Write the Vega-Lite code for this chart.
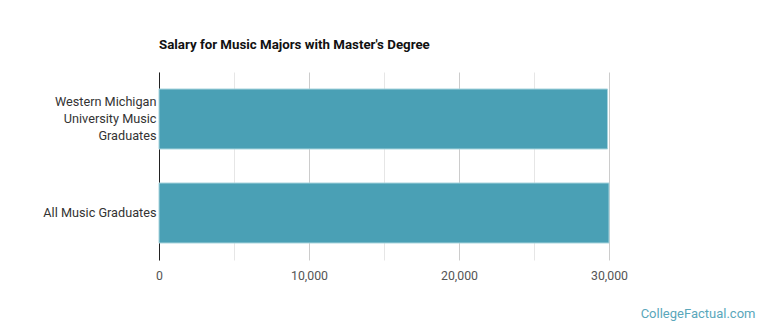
{
  "$schema": "https://vega.github.io/schema/vega-lite/v6.json",
  "autosize": "none",
  "width": 450,
  "height": 188,
  "padding": {"left": 159, "top": 72, "right": 161, "bottom": 75},
  "background": "white",
  "title": {
    "text": "Salary for Music Majors with Master's Degree",
    "anchor": "start",
    "frame": "group",
    "font": "Roboto",
    "fontSize": 13.3,
    "fontWeight": "bold",
    "color": "#111111",
    "offset": 21
  },
  "data": {
    "values": [
      {"group": "Western Michigan University Music Graduates", "salary": 29900},
      {"group": "All Music Graduates", "salary": 30000}
    ]
  },
  "mark": {"type": "bar", "color": "#4aa0b5", "stroke": "#a6d3dd", "strokeWidth": 1},
  "encoding": {
    "y": {
      "field": "group",
      "type": "nominal",
      "sort": null,
      "scale": {"paddingInner": 0.362, "paddingOuter": 0.181},
      "axis": {
        "title": null,
        "ticks": false,
        "domain": true,
        "domainColor": "#222222",
        "domainWidth": 1,
        "grid": false,
        "labelFont": "Roboto",
        "labelFontSize": 12.7,
        "labelColor": "#333333",
        "labelPadding": 3,
        "labelLimit": 200,
        "labelLineHeight": 17,
        "labelOffset": {"condition": {"test": "indexof(datum.value, 'Western') >= 0", "value": -17}, "value": 0},
        "labelExpr": "datum.label == 'Western Michigan University Music Graduates' ? ['Western Michigan', 'University Music', 'Graduates'] : datum.label"
      }
    },
    "x": {
      "field": "salary",
      "type": "quantitative",
      "scale": {"domain": [0, 30000], "nice": false},
      "axis": {
        "values": [0, 5000, 10000, 15000, 20000, 25000, 30000],
        "labelExpr": "datum.value % 10000 == 0 ? format(datum.value, ',') : ''",
        "labelFlush": false,
        "domain": false,
        "ticks": false,
        "grid": true,
        "gridColor": {"condition": {"test": "datum.value % 10000 == 0", "value": "#cccccc"}, "value": "#e6e6e6"},
        "labelFont": "Roboto",
        "labelFontSize": 12.3,
        "labelColor": "#555555",
        "labelPadding": 9,
        "title": "CollegeFactual.com",
        "titleFont": "Roboto",
        "titleFontSize": 13,
        "titleFontWeight": "normal",
        "titleColor": "#5aa7bb",
        "titleAnchor": "start",
        "titleAlign": "right",
        "titleBaseline": "middle",
        "titleX": 596,
        "titleY": 53
      }
    }
  },
  "config": {
    "view": {"stroke": null}
  }
}
